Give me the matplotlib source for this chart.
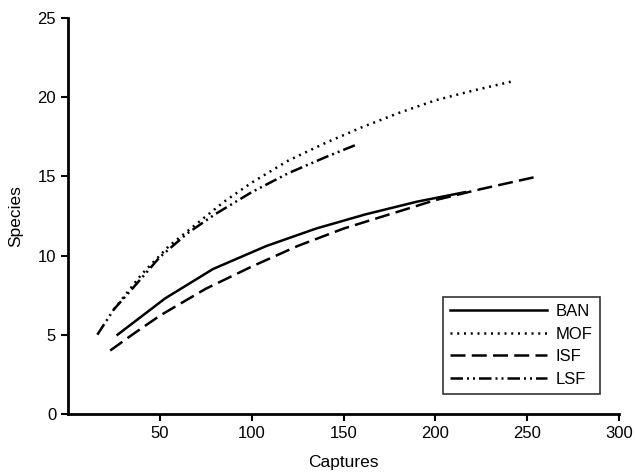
import matplotlib
matplotlib.use("Agg")
import matplotlib.pyplot as plt

plt.rcParams['font.family'] = ['Liberation Sans', 'DejaVu Sans']

# rarefaction curves
ban_x = [27, 53, 79, 108, 135, 162, 190, 216]
ban_y = [5.0, 7.3, 9.15, 10.6, 11.7, 12.6, 13.4, 14.0]

mof_x = [25, 40, 55, 70, 85, 100, 120, 140, 160, 180, 200, 220, 242]
mof_y = [6.6, 8.8, 10.6, 12.0, 13.4, 14.6, 16.0, 17.1, 18.1, 19.0, 19.8, 20.4, 21.0]

isf_x = [23, 35, 50, 75, 100, 125, 150, 175, 200, 225, 256]
isf_y = [4.0, 5.0, 6.2, 7.9, 9.3, 10.6, 11.7, 12.6, 13.5, 14.2, 15.0]

lsf_x = [16, 25, 35, 50, 65, 80, 100, 120, 140, 157]
lsf_y = [5.0, 6.6, 7.9, 9.9, 11.4, 12.6, 14.0, 15.2, 16.2, 17.0]

xticks = [50, 100, 150, 200, 250, 300]
yticks = [0, 5, 10, 15, 20, 25]

fig = plt.figure(figsize=(6.35, 4.73), dpi=100)
ax = fig.add_axes([0.107, 0.125, 0.868, 0.837])

lw = 1.8
ax.plot(ban_x, ban_y, color='black', lw=lw, linestyle='-', label='BAN')
ax.plot(mof_x, mof_y, color='black', lw=lw, linestyle=(0, (0.8, 1.9)), label='MOF')
ax.plot(isf_x, isf_y, color='black', lw=lw, linestyle=(0, (6, 2.5)), label='ISF')
ax.plot(lsf_x, lsf_y, color='black', lw=lw, linestyle=(0, (5, 1.6, 0.8, 1.6, 0.8, 1.6)), label='LSF')

ax.set_xlim(0, 300)
ax.set_ylim(0, 25)
ax.set_xticks(xticks)
ax.set_yticks(yticks)
ax.spines['top'].set_visible(False)
ax.spines['right'].set_visible(False)
ax.spines['left'].set_linewidth(2)
ax.spines['bottom'].set_linewidth(2)
ax.tick_params(direction='out', length=5, width=1.5, labelsize=12, colors='black')
ax.set_xlabel('Captures', fontsize=12.5, labelpad=10)
ax.set_ylabel('Species', fontsize=12.5, labelpad=10)

leg = ax.legend(loc='lower right', bbox_to_anchor=(0.965, 0.05), fontsize=12,
                frameon=True, fancybox=False, handlelength=5.8, borderpad=0.45,
                labelspacing=0.45, handletextpad=0.5, borderaxespad=0)
leg.get_frame().set_edgecolor('black')
leg.get_frame().set_linewidth(1.2)

fig.savefig('out.png', dpi=100)
